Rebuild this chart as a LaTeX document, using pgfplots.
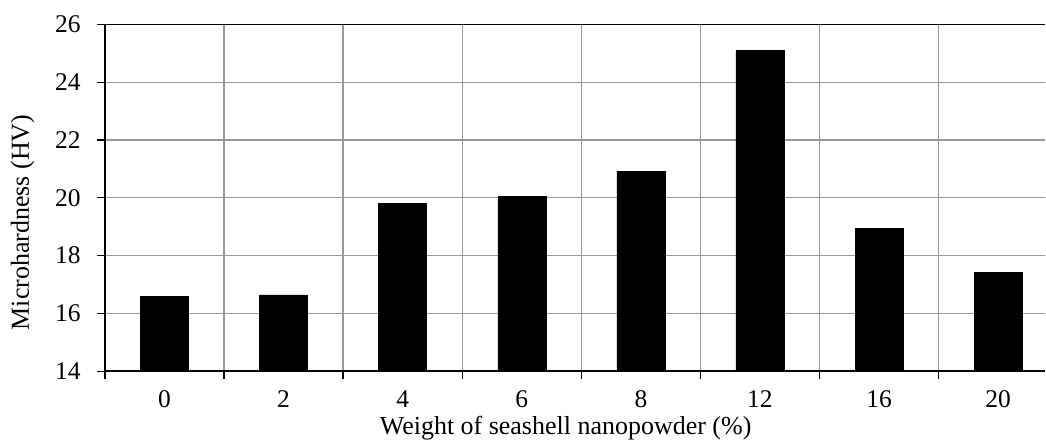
\documentclass[border=0pt]{standalone}
\usepackage{fontspec}
\setmainfont{Liberation Serif}
\usepackage{pgfplots}
\pgfplotsset{compat=1.18}
\begin{document}
\fontsize{26}{31}\selectfont
\begin{tikzpicture}
\begin{axis}[
  scale only axis,
  width=941pt, height=347pt,
  xmin=-0.5, xmax=7.394,
  ymin=14, ymax=26,
  axis x line=box, axis y line=left,
  axis line style={-, line width=1.8pt, black},
  xtick={0,1,2,3,4,5,6,7},
  xticklabels={0,2,4,6,8,12,16,20},
  major x tick style={draw=none},
  minor xtick={-0.5,0.5,1.5,2.5,3.5,4.5,5.5,6.5},
  xminorgrids=true, xmajorgrids=false,
  ytick={14,16,...,26},
  ymajorgrids=true,
  tick align=outside,
  xtick pos=left, ytick pos=left,
  major tick length=8pt, minor tick length=8pt,
  tick style={line width=1.3pt, black},
  grid style={line width=1.3pt, color=black!40},
  minor grid style={line width=1.3pt, color=black!40},
  /pgf/number format/assume math mode=true,
  ticklabel style={font=\fontsize{25.5}{30}\selectfont},
  xticklabel style={anchor=base, inner sep=0pt, yshift=-28.5pt},
  yticklabel style={anchor=east, inner sep=0pt, xshift=-16pt},
  xlabel={Weight of seashell nanopowder (\%)},
  ylabel={Microhardness (HV)},
  label style={font=\fontsize{26}{31}\selectfont},
  xlabel style={at={(axis description cs:0.49,-0.182)}, anchor=base, inner sep=0pt},
  ylabel style={at={(axis description cs:-0.0808,0.429)}, anchor=base, rotate=0},
  ybar, bar width=48pt,
  clip=true,
]
\addplot[fill=black, draw=black, line width=0.5pt, bar shift=0pt] coordinates {
(0,16.58) (1,16.64) (2,19.82) (3,20.04) (4,20.92) (5,25.11) (6,18.95) (7,17.43)
};
\end{axis}
\path (-105pt,-67.5pt) rectangle (941pt,371.5pt);
\end{tikzpicture}
\end{document}
